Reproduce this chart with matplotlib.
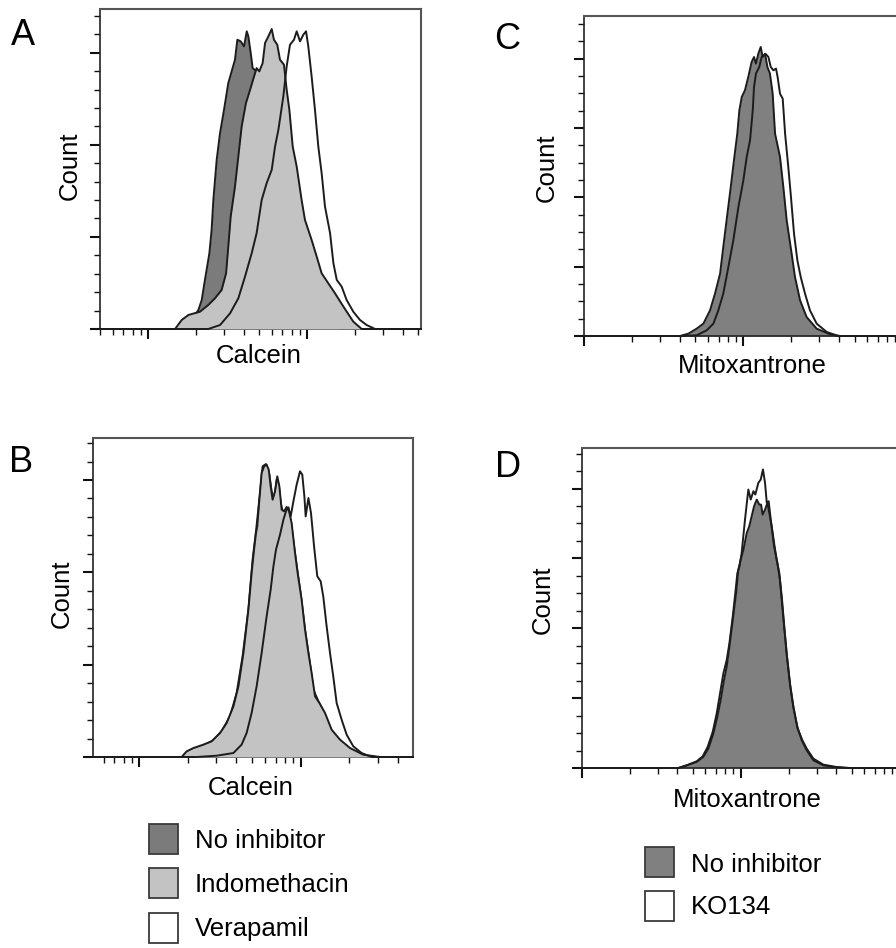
import numpy as np
import matplotlib
matplotlib.use("Agg")
import matplotlib.pyplot as plt
from matplotlib.ticker import LogLocator, MultipleLocator, NullFormatter
from matplotlib.patches import Rectangle

plt.rcParams['font.family'] = ['Liberation Sans', 'DejaVu Sans']

# ---------------- data (log10 intensity, count) ----------------
# Panel A (Calcein)
a_noinh_logx = [3.201, 3.275, 3.317, 3.338, 3.358, 3.386, 3.400, 3.411, 3.432, 3.453, 3.478, 3.505, 3.526, 3.547,
                3.562, 3.583, 3.604, 3.621, 3.631, 3.646, 3.658, 3.683, 3.725, 3.767, 3.809, 3.851, 3.893, 3.935,
                3.977, 4.040, 4.124, 4.208]
a_noinh_cnt = [0, 9.8, 20.7, 31.5, 53.3, 82.2, 107.6, 140.2, 183.7, 212.7, 238.0, 267.0, 279.7, 292.4,
               314.1, 312.3, 306.9, 323.2, 317.8, 299.6, 283.3, 279.7, 274.3, 259.8, 230.8, 194.6, 154.7, 111.2,
               75.0, 38.8, 13.4, 0]
a_indo_logx = [3.170, 3.212, 3.254, 3.327, 3.379, 3.421, 3.463, 3.491, 3.505, 3.520, 3.547, 3.568, 3.589, 3.616,
               3.642, 3.667, 3.683, 3.700, 3.721, 3.736, 3.757, 3.778, 3.792, 3.813, 3.830, 3.855, 3.872, 3.889,
               3.910, 3.935, 3.966, 3.987, 4.029, 4.061, 4.092, 4.134, 4.176, 4.229, 4.291, 4.344]
a_indo_cnt = [0, 9.8, 15.2, 18.8, 26.1, 33.3, 42.4, 60.5, 89.5, 122.1, 154.7, 187.3, 219.9, 245.3,
              259.8, 274.3, 283.3, 279.7, 288.8, 310.5, 317.8, 325.7, 314.1, 308.7, 292.4, 287.0, 259.8, 238.0,
              198.2, 176.4, 140.2, 118.5, 96.7, 78.6, 60.5, 49.6, 38.8, 24.3, 8.0, 0]
a_vera_logx = [3.379, 3.453, 3.516, 3.568, 3.610, 3.652, 3.683, 3.715, 3.746, 3.778, 3.799, 3.820, 3.851, 3.872,
               3.893, 3.918, 3.935, 3.956, 3.977, 3.994, 4.008, 4.029, 4.050, 4.071, 4.092, 4.113, 4.145, 4.166,
               4.187, 4.218, 4.249, 4.291, 4.333, 4.375, 4.428]
a_vera_cnt = [0, 4.3, 17.0, 33.3, 56.9, 82.2, 104.0, 140.2, 158.3, 172.8, 198.2, 216.3, 252.5, 285.1,
              308.7, 314.1, 323.2, 312.3, 319.6, 323.2, 306.9, 274.3, 238.0, 198.2, 169.2, 133.0, 104.0, 71.4,
              53.3, 46.0, 31.5, 18.8, 9.8, 4.3, 0]

# Panel B (Calcein)
b_noinh_logx = [3.273, 3.324, 3.397, 3.459, 3.510, 3.562, 3.603, 3.640, 3.676, 3.702, 3.723, 3.748, 3.764, 3.785,
                3.806, 3.820, 3.835, 3.851, 3.864, 3.876, 3.893, 3.917, 3.938, 3.959, 3.979, 4.002, 4.027, 4.054,
                4.079, 4.110, 4.151, 4.192, 4.244, 4.306, 4.388, 4.471]
b_noinh_cnt = [0, 7.9, 12.3, 18.1, 27.8, 44.0, 69.3, 109.0, 159.6, 213.7, 244.4, 285.9, 314.8, 317.3,
               305.8, 287.7, 278.7, 300.4, 294.9, 275.1, 262.5, 264.3, 257.0, 228.2, 202.9, 174.0, 137.9, 105.4,
               72.9, 60.3, 45.8, 27.8, 17.0, 8.7, 1.8, 0]
b_indo_logx = [3.262, 3.293, 3.335, 3.397, 3.448, 3.500, 3.541, 3.583, 3.614, 3.645, 3.676, 3.696, 3.711, 3.723,
               3.731, 3.744, 3.758, 3.773, 3.789, 3.802, 3.814, 3.826, 3.841, 3.855, 3.868, 3.882, 3.897, 3.913,
               3.926, 3.944, 3.965, 3.981, 4.006, 4.027, 4.048, 4.068, 4.089, 4.116, 4.151, 4.192, 4.244, 4.306,
               4.388, 4.492]
b_indo_cnt = [0, 6.1, 9.7, 13.4, 17.0, 26.0, 36.8, 54.9, 76.5, 112.6, 159.6, 199.3, 224.5, 242.6,
              249.8, 278.7, 307.6, 314.8, 316.6, 311.2, 293.1, 278.7, 287.7, 304.0, 293.1, 267.9, 266.1, 270.8,
              267.9, 253.4, 220.9, 199.3, 170.4, 137.9, 112.6, 91.0, 65.7, 58.5, 47.7, 29.6, 18.8, 9.7,
              2.5, 0]
b_vera_logx = [3.355, 3.479, 3.583, 3.634, 3.665, 3.696, 3.727, 3.758, 3.789, 3.814, 3.831, 3.847, 3.872, 3.893,
               3.909, 3.924, 3.938, 3.955, 3.975, 3.996, 4.010, 4.023, 4.031, 4.048, 4.064, 4.083, 4.103, 4.124,
               4.140, 4.161, 4.182, 4.202, 4.223, 4.254, 4.285, 4.326, 4.378, 4.440]
b_vera_cnt = [0, 1.4, 4.3, 13.4, 26.0, 47.7, 76.5, 112.6, 152.3, 181.2, 206.5, 224.5, 240.8, 257.0,
              266.1, 270.4, 260.6, 276.9, 294.9, 309.4, 305.8, 282.3, 260.6, 280.5, 264.3, 228.2, 195.7, 190.3,
              174.0, 141.5, 112.6, 87.4, 58.5, 40.4, 24.2, 11.6, 4.3, 0]

# Panel C (Mitoxantrone)
c_noinh_logx = [2.603, 2.655, 2.707, 2.749, 2.791, 2.822, 2.854, 2.874, 2.900, 2.921, 2.941, 2.962, 2.975, 2.990,
                3.010, 3.031, 3.052, 3.067, 3.079, 3.094, 3.109, 3.121, 3.136, 3.151, 3.167, 3.184, 3.199, 3.230,
                3.251, 3.272, 3.303, 3.324, 3.356, 3.397, 3.460, 3.544, 3.607]
c_noinh_cnt = [0, 3.4, 10.6, 17.8, 37.0, 61.1, 89.9, 128.4, 176.4, 214.9, 253.4, 291.8, 325.5, 344.7,
               354.3, 373.6, 395.2, 402.4, 392.8, 407.2, 416.8, 402.4, 407.2, 388.0, 378.4, 349.5, 291.8, 258.2,
               214.9, 166.8, 118.8, 85.1, 51.4, 27.4, 10.6, 2.4, 0]
c_ko_logx = [2.603, 2.707, 2.770, 2.812, 2.843, 2.874, 2.906, 2.937, 2.969, 3.000, 3.021, 3.042, 3.059, 3.067,
             3.079, 3.100, 3.115, 3.130, 3.142, 3.157, 3.172, 3.188, 3.205, 3.215, 3.230, 3.247, 3.262, 3.282,
             3.297, 3.318, 3.339, 3.360, 3.387, 3.418, 3.460, 3.523, 3.596]
c_ko_cnt = [0, 1.0, 8.2, 17.8, 37.0, 61.1, 99.5, 138.0, 186.1, 224.5, 258.2, 282.2, 325.5, 359.1,
            378.4, 388.0, 402.4, 404.8, 406.3, 402.4, 388.0, 383.2, 385.6, 373.6, 349.5, 342.3, 291.8, 243.8,
            205.3, 147.6, 109.1, 85.1, 61.1, 37.0, 17.8, 5.8, 0]

# Panel D (Mitoxantrone)
d_noinh_logx = [2.608, 2.660, 2.723, 2.765, 2.797, 2.828, 2.853, 2.874, 2.895, 2.912, 2.929, 2.950, 2.971, 2.985,
                3.000, 3.017, 3.038, 3.054, 3.069, 3.084, 3.101, 3.117, 3.128, 3.138, 3.153, 3.168, 3.180, 3.195,
                3.210, 3.226, 3.243, 3.258, 3.273, 3.289, 3.310, 3.331, 3.356, 3.384, 3.415, 3.457, 3.520, 3.583,
                3.667]
d_noinh_cnt = [0, 3.8, 8.6, 15.8, 27.8, 49.3, 73.2, 97.1, 125.8, 145.0, 173.7, 212.0, 250.2, 283.7,
               298.1, 312.4, 336.4, 345.9, 360.3, 374.6, 384.2, 377.0, 377.0, 362.7, 369.9, 379.4, 365.1, 345.9,
               322.0, 298.1, 279.0, 240.7, 202.4, 164.1, 121.1, 87.6, 58.9, 39.7, 25.4, 11.0, 3.8, 1.4,
               0]
d_ko_logx = [2.608, 2.660, 2.723, 2.761, 2.792, 2.824, 2.849, 2.870, 2.891, 2.912, 2.929, 2.950, 2.966, 2.979,
             2.992, 3.006, 3.027, 3.048, 3.063, 3.080, 3.092, 3.111, 3.126, 3.140, 3.153, 3.164, 3.176, 3.189,
             3.210, 3.231, 3.247, 3.260, 3.275, 3.291, 3.312, 3.333, 3.358, 3.388, 3.415, 3.457, 3.520, 3.604,
             3.688]
d_ko_cnt = [0, 3.8, 9.6, 16.7, 30.1, 51.7, 78.0, 106.7, 135.4, 154.5, 178.5, 216.7, 250.2, 278.9,
            288.5, 307.7, 355.5, 398.6, 384.2, 396.2, 391.4, 408.1, 412.9, 427.3, 408.1, 379.4, 381.8, 355.5,
            317.2, 293.3, 269.4, 240.7, 200.0, 159.3, 116.3, 85.2, 56.5, 39.7, 27.8, 13.4, 4.8, 1.4,
            0]

legend_left = ['No inhibitor', 'Indomethacin', 'Verapamil']
legend_right = ['No inhibitor', 'KO134']
panel_letters = ['A', 'B', 'C', 'D']
xlabel_calcein = 'Calcein'
xlabel_mito = 'Mitoxantrone'
ylabel = 'Count'

# ---------------- styling ----------------
W, H = 896, 948
DARK = '#7b7b7b'
DARK2 = '#808080'
LIGHT = '#c3c3c3'
EDGE = '#1c1c1c'
LW = 1.4
FS = 18.5
FS_LET = 26

fig = plt.figure(figsize=(W / 100, H / 100), dpi=100)


def add_ax(left, top, right, bottom):
    return fig.add_axes([left / W, 1 - bottom / H, (right - left) / W, (bottom - top) / H])


def ftext(x, y, s, **kw):
    fig.text(x / W, 1 - y / H, s, fontsize=kw.pop('fontsize', FS), **kw)


def style(ax, xlim, ylim, ymajor, yminor, right_spine=True):
    ax.set_xscale('log')
    ax.set_xlim(*xlim)
    ax.set_ylim(*ylim)
    ax.xaxis.set_major_locator(LogLocator(base=10, numticks=20))
    ax.xaxis.set_minor_locator(LogLocator(base=10, subs=np.arange(2, 10), numticks=50))
    ax.xaxis.set_major_formatter(NullFormatter())
    ax.xaxis.set_minor_formatter(NullFormatter())
    ax.yaxis.set_major_locator(MultipleLocator(ymajor))
    ax.yaxis.set_minor_locator(MultipleLocator(yminor))
    ax.yaxis.set_major_formatter(NullFormatter())
    ax.tick_params(which='major', direction='out', length=7, width=1.5, color='#111111')
    ax.tick_params(which='minor', direction='out', length=4, width=1.0, color='#111111')
    ax.tick_params(top=False, right=False)
    for side in ['left', 'bottom']:
        ax.spines[side].set_color('#222222')
        ax.spines[side].set_linewidth(1.2)
    for side in ['top', 'right']:
        ax.spines[side].set_color('#555555')
        ax.spines[side].set_linewidth(1.5)
    ax.spines['right'].set_visible(right_spine)


def curve(ax, logx, cnt, xlim, face, z, fill=True, line=True):
    x = np.concatenate([[xlim[0]], 10 ** np.asarray(logx), [xlim[1]]])
    y = np.concatenate([[0], np.asarray(cnt), [0]])
    if fill:
        ax.fill_between(x, 0, y, color=face, lw=0, zorder=z)
    if line:
        ax.plot(x, y, color=EDGE, lw=LW, zorder=z + 0.5, clip_on=False, solid_joinstyle='round')


# Panel A
xlA = (499, 52100)
axA = add_ax(100, 8.5, 421, 329)
style(axA, xlA, (0, 348), 100, 20)
curve(axA, a_vera_logx, a_vera_cnt, xlA, 'white', 1, line=False)
curve(axA, a_noinh_logx, a_noinh_cnt, xlA, DARK, 2)
curve(axA, a_indo_logx, a_indo_cnt, xlA, LIGHT, 3)
curve(axA, a_vera_logx, a_vera_cnt, xlA, 'white', 4, fill=False)

# Panel B
xlB = (516, 49700)
axB = add_ax(93, 438, 413, 757)
style(axB, xlB, (0, 345.5), 100, 20)
curve(axB, b_vera_logx, b_vera_cnt, xlB, 'white', 1, line=False)
curve(axB, b_noinh_logx, b_noinh_cnt, xlB, DARK, 2)
curve(axB, b_indo_logx, b_indo_cnt, xlB, LIGHT, 3)
curve(axB, b_vera_logx, b_vera_cnt, xlB, 'white', 4, fill=False)

# Panel C
xlC = (100, 10000)
axC = add_ax(584, 16, 902.7, 336)
style(axC, xlC, (0, 461.5), 100, 25, right_spine=False)
curve(axC, c_ko_logx, c_ko_cnt, xlC, 'white', 1, line=False)
curve(axC, c_noinh_logx, c_noinh_cnt, xlC, DARK2, 2)
curve(axC, c_ko_logx, c_ko_cnt, xlC, 'white', 3, fill=False)

# Panel D
xlD = (100, 10000)
axD = add_ax(581.7, 448, 899.7, 768)
style(axD, xlD, (0, 458), 100, 25, right_spine=False)
curve(axD, d_ko_logx, d_ko_cnt, xlD, 'white', 1, line=False)
curve(axD, d_noinh_logx, d_noinh_cnt, xlD, DARK2, 2)
curve(axD, d_ko_logx, d_ko_cnt, xlD, 'white', 3, fill=False)

# Panel letters
ftext(11, 45, panel_letters[0], fontsize=FS_LET, ha='left', va='baseline')
ftext(9, 472, panel_letters[1], fontsize=FS_LET, ha='left', va='baseline')
ftext(494, 49, panel_letters[2], fontsize=FS_LET, ha='left', va='baseline')
ftext(495, 477, panel_letters[3], fontsize=FS_LET, ha='left', va='baseline')

# Axis labels
ftext(70, 166, ylabel, rotation=90, ha='center', va='center')
ftext(62, 594, ylabel, rotation=90, ha='center', va='center')
ftext(547, 168, ylabel, rotation=90, ha='center', va='center')
ftext(543, 600, ylabel, rotation=90, ha='center', va='center')
ftext(259, 363, xlabel_calcein, ha='center', va='baseline')
ftext(251, 795, xlabel_calcein, ha='center', va='baseline')
ftext(752, 373, xlabel_mito, ha='center', va='baseline')
ftext(747, 807, xlabel_mito, ha='center', va='baseline')


def legend_box(x, top, face):
    fig.add_artist(Rectangle((x / W, 1 - (top + 30) / H), 29 / W, 30 / H, transform=fig.transFigure,
                             facecolor=face, edgecolor='#3a3a3a', lw=1.3))


# Left legend
left_faces = [DARK, LIGHT, 'white']
left_tops = [824, 868, 913]
left_base = [848, 892, 936]
for lab, face, tp, bl in zip(legend_left, left_faces, left_tops, left_base):
    legend_box(149, tp, face)
    ftext(195, bl, lab, ha='left', va='baseline')

# Right legend
right_faces = [DARK2, 'white']
right_tops = [847, 891]
right_base = [872, 914]
for lab, face, tp, bl in zip(legend_right, right_faces, right_tops, right_base):
    legend_box(645, tp, face)
    ftext(691, bl, lab, ha='left', va='baseline')

fig.savefig('out.png', dpi=100)
